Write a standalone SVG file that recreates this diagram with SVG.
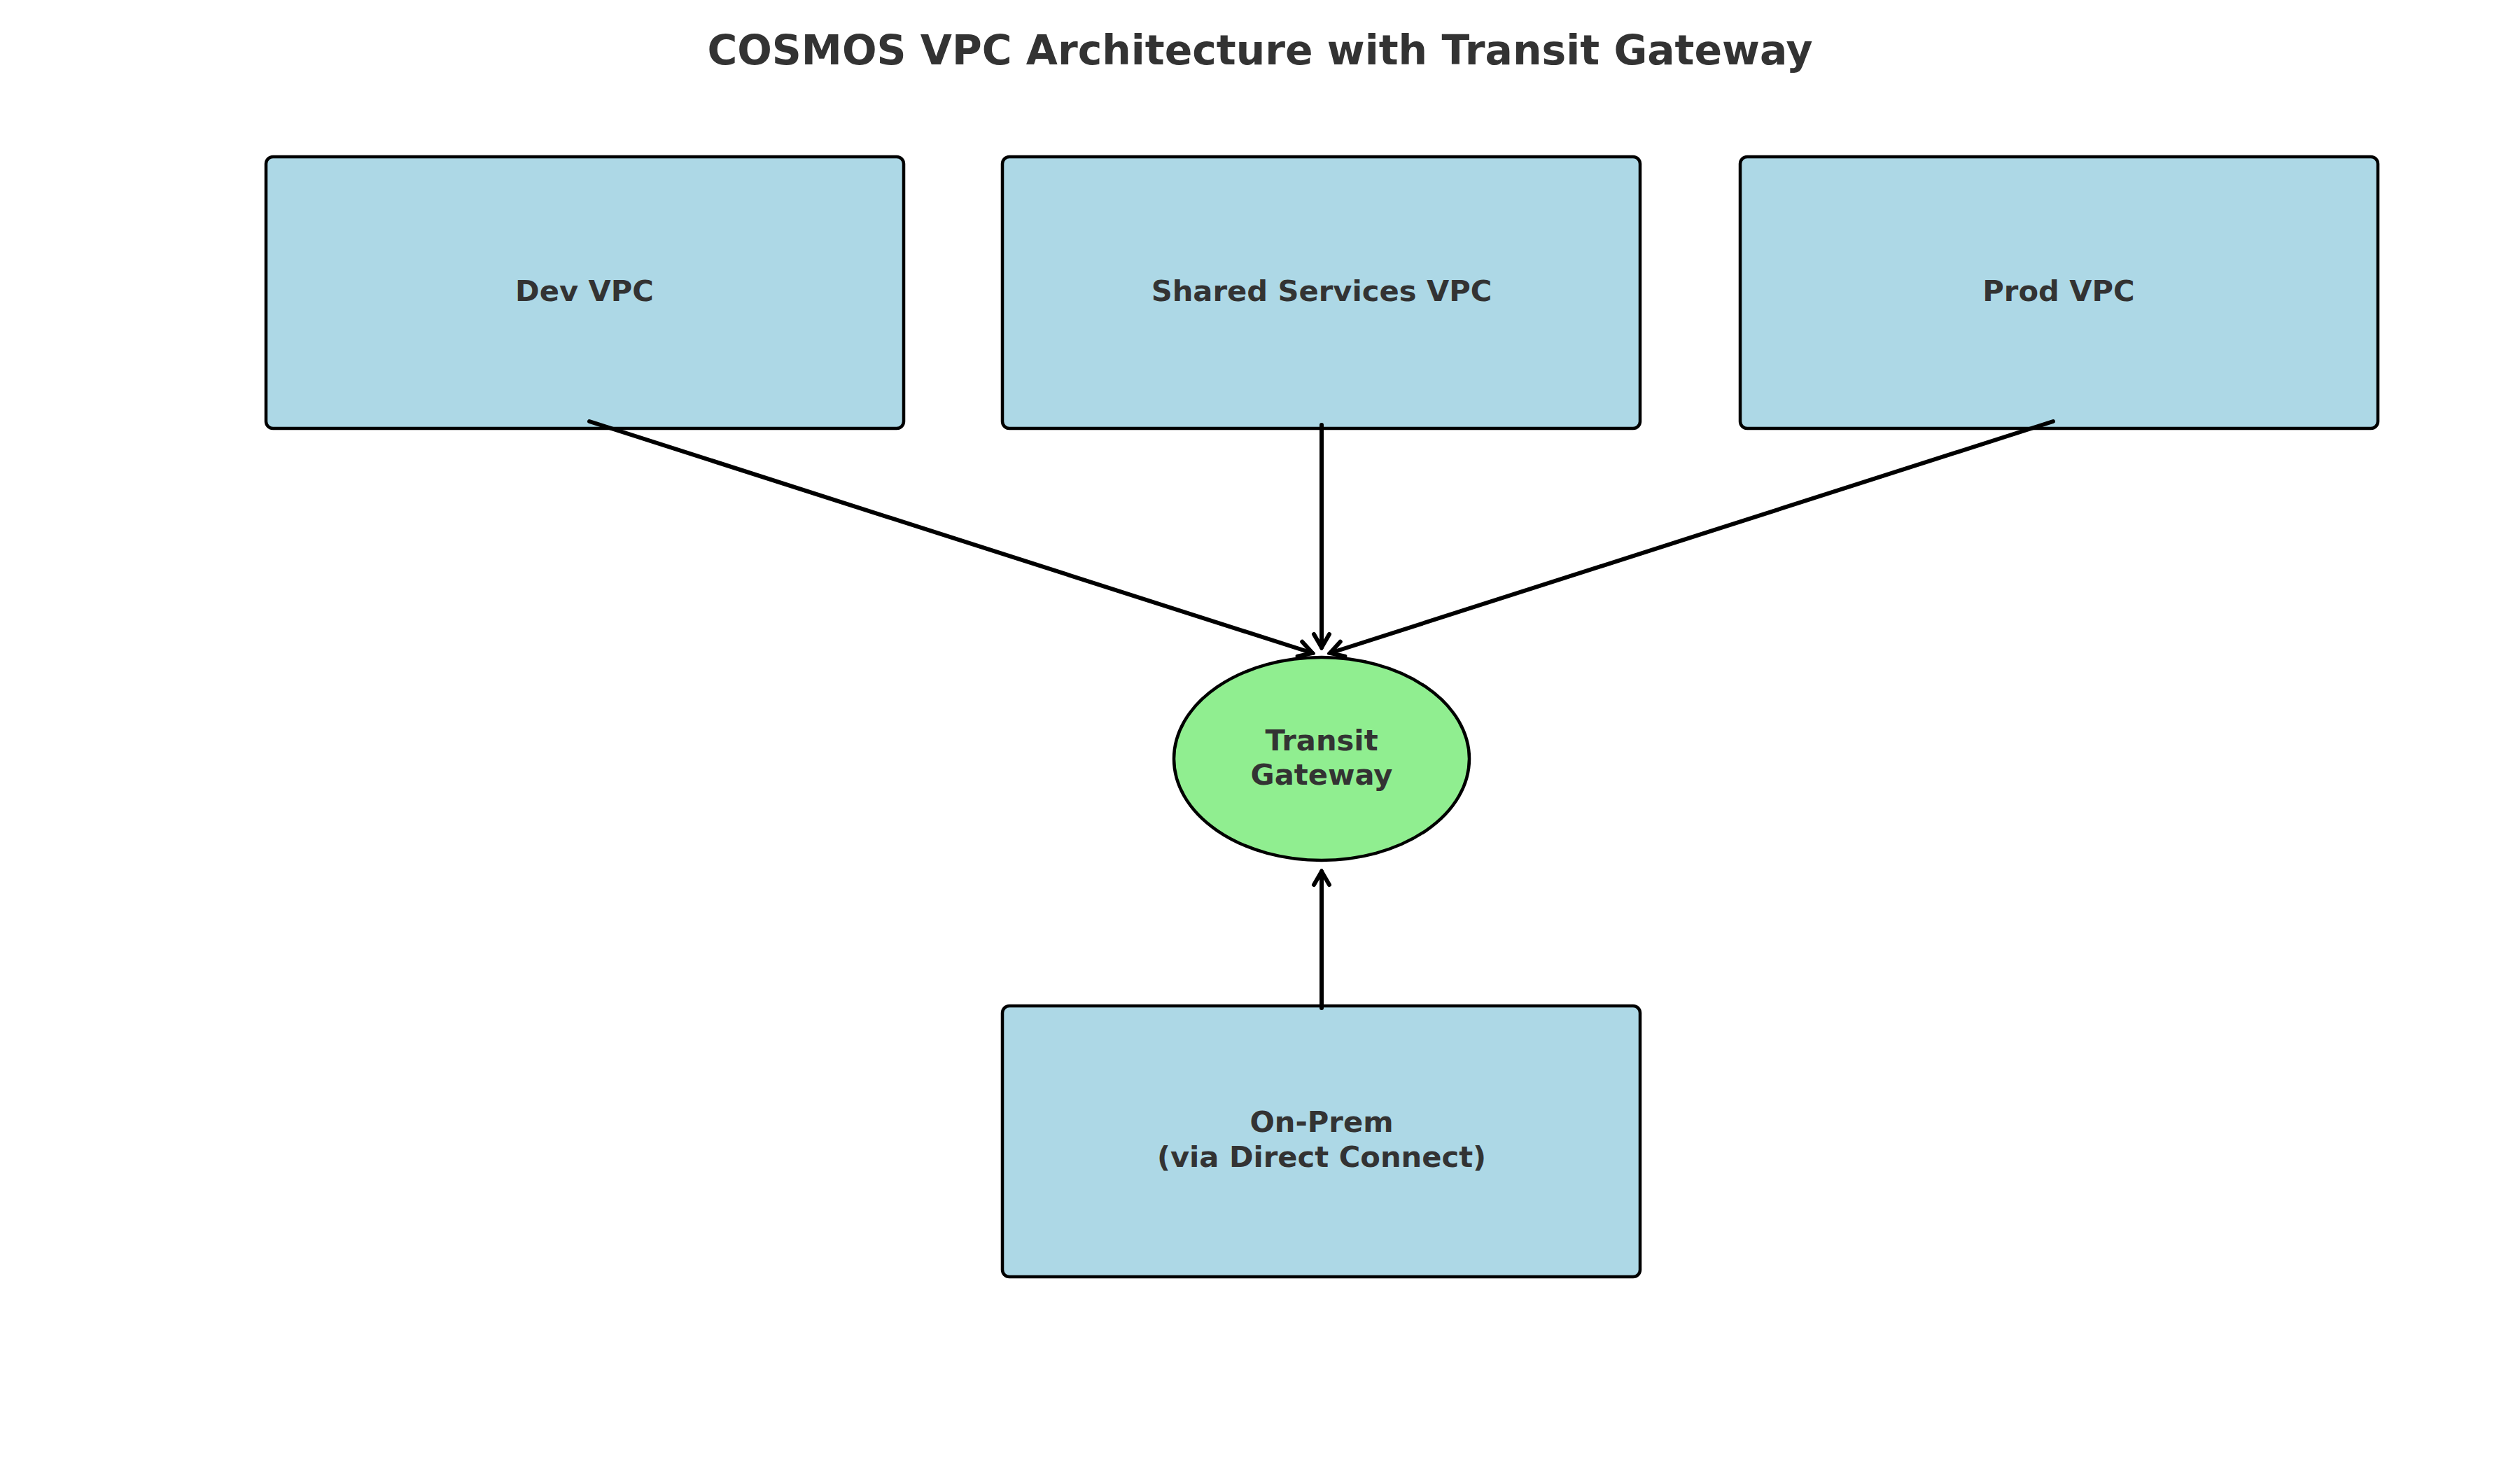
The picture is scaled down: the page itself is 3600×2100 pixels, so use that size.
<svg xmlns="http://www.w3.org/2000/svg" width="3600" height="2100" viewBox="0 0 3600 2100">
<style>
.box{fill:#ADD8E6;stroke:#000;stroke-width:4.5}
.gw{fill:#90EE90;stroke:#000;stroke-width:4.5}
.lbl{font-family:"DejaVu Sans",sans-serif;font-weight:bold;font-size:41.67px;fill:#333;text-anchor:middle}
.title{font-family:"DejaVu Sans",sans-serif;font-weight:bold;font-size:58.33px;fill:#333;text-anchor:middle}
.edge{stroke:#000;stroke-width:6;fill:none;stroke-linecap:round;marker-end:url(#arr)}
</style>
<defs>
<marker id="arr" markerUnits="userSpaceOnUse" viewBox="-26 -16 30 32" refX="0" refY="0" markerWidth="30" markerHeight="32" orient="auto">
<path d="M-19,-11 L0,0 L-19,11" fill="none" stroke="#000" stroke-width="6" stroke-linecap="round" stroke-linejoin="miter"/>
</marker>
</defs>
<rect width="3600" height="2100" fill="#fff"/>
<text class="title" x="1800" y="92">COSMOS VPC Architecture with Transit Gateway</text>
<g id="dev-vpc">
<rect class="box" x="380" y="224" width="911" height="388" rx="10"/>
<text class="lbl" x="835" y="430">Dev VPC</text>
</g>
<g id="shared-services-vpc">
<rect class="box" x="1432" y="224" width="911" height="388" rx="10"/>
<text class="lbl" x="1888" y="430">Shared Services VPC</text>
</g>
<g id="prod-vpc">
<rect class="box" x="2486" y="224" width="911" height="388" rx="10"/>
<text class="lbl" x="2941" y="430">Prod VPC</text>
</g>
<g id="transit-gateway">
<ellipse class="gw" cx="1888" cy="1084" rx="211" ry="145"/>
<text class="lbl" x="1888" y="1072">Transit</text>
<text class="lbl" x="1888" y="1121">Gateway</text>
</g>
<g id="on-prem">
<rect class="box" x="1432" y="1437" width="911" height="387" rx="10"/>
<text class="lbl" x="1888" y="1617">On-Prem</text>
<text class="lbl" x="1888" y="1667">(via Direct Connect)</text>
</g>
<g id="connectors">
<line class="edge" x1="842" y1="602" x2="1875" y2="933"/>
<line class="edge" x1="1888" y1="607" x2="1888" y2="925"/>
<line class="edge" x1="2933" y1="602" x2="1900" y2="933"/>
<line class="edge" x1="1888" y1="1440" x2="1888" y2="1245"/>
</g>
</svg>
